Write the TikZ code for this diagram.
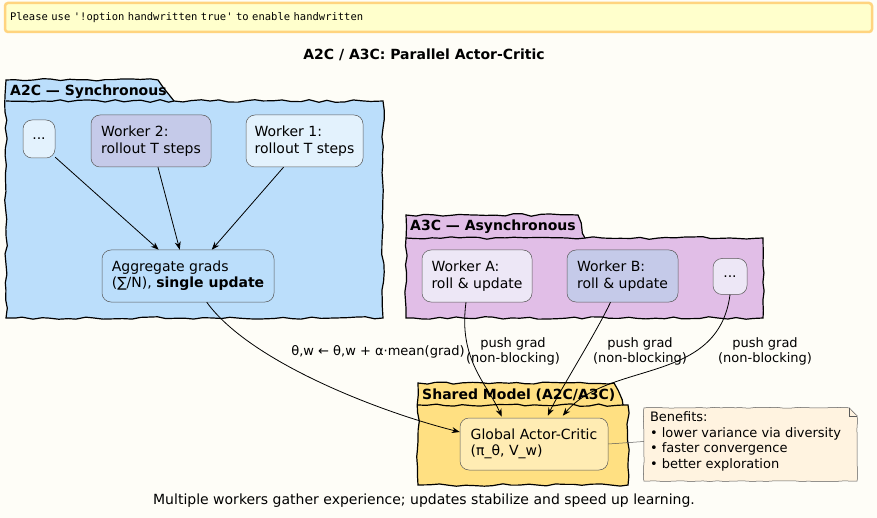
\documentclass[tikz,border=0pt]{standalone}
\usepackage{fontspec}
\setmainfont{DejaVu Sans}
\newfontfamily\monofont{DejaVu Sans Mono}
\usetikzlibrary{arrows.meta,calc,decorations.pathmorphing}
\definecolor{bgc}{HTML}{FEFDF7}
\definecolor{bannerfill}{HTML}{FFFFCC}
\definecolor{bannerdraw}{HTML}{FFD47F}
\definecolor{atwoc}{HTML}{BBDEFB}
\definecolor{athreec}{HTML}{E1BEE7}
\definecolor{sharedc}{HTML}{FFE082}
\definecolor{lightblue}{HTML}{E3F2FD}
\definecolor{indigo}{HTML}{C5CAE9}
\definecolor{lavender}{HTML}{EDE7F6}
\definecolor{amberlight}{HTML}{FFECB3}
\definecolor{notefill}{HTML}{FFF3E0}
\definecolor{nodeborder}{HTML}{5A5A5A}
\tikzset{
  sketch/.style={decorate, decoration={random steps, segment length=7pt, amplitude=0.4pt}},
  pkgsketch/.style={decorate, decoration={random steps, segment length=9pt, amplitude=1.3pt}},
  pkg/.style={draw=black, line width=1.2pt, pkgsketch},
  pkglabel/.style={font=\fontsize{14}{16}\selectfont\bfseries, anchor=base west, inner sep=0pt},
  wnode/.style={draw=nodeborder, line width=0.5pt, rounded corners=9pt, align=left,
    font=\fontsize{14}{16.3}\selectfont, inner sep=0pt},
  elabel/.style={font=\fontsize{13}{15}\selectfont, align=center, inner sep=0pt},
  arr/.style={draw=black, line width=0.8pt, -{Stealth[length=8pt,width=6pt]}},
}
\begin{document}
\begin{tikzpicture}[x=1pt,y=-1pt]
\pgfmathsetseed{7}
\useasboundingbox[fill=bgc] (0,0) rectangle (877,518);

% banner
\node[draw=bannerdraw, fill=bannerfill, line width=2.5pt, rounded corners=3pt,
  text width=857pt, align=left, minimum height=29pt, inner sep=5pt,
  font=\monofont\fontsize{10.5}{12}\selectfont] (banner) at (438.5,17.5)
  {Please use \textquotesingle!option handwritten true\textquotesingle{} to enable handwritten};

% title
\node[font=\fontsize{14}{16}\selectfont\bfseries] (title) at (424,55) {A2C / A3C: Parallel Actor-Critic};

% packages
\path[pkg, fill=atwoc] (6,80) -- (158,80) -- (174,101) -- (383,101) -- (383,318) -- (6,318) -- cycle;
\draw[line width=1.2pt, pkgsketch] (6,101) -- (174,101);
\node[pkglabel] (a2clab) at (10,96) {A2C — Synchronous};

\path[pkg, fill=athreec] (406,215) -- (578,215) -- (585,238) -- (763,238) -- (763,318) -- (406,318) -- cycle;
\draw[line width=1.2pt, pkgsketch] (406,238) -- (585,238);
\node[pkglabel] (a3clab) at (410,231) {A3C — Asynchronous};

\path[pkg, fill=sharedc] (418,383) -- (614,383) -- (623,405) -- (628,405) -- (628,485) -- (418,485) -- cycle;
\draw[line width=1.2pt, pkgsketch] (418,405) -- (623,405);
\node[pkglabel] (sharedlab) at (422,399) {Shared Model (A2C/A3C)};

% A2C nodes
\node[wnode, fill=lightblue, minimum width=32pt, minimum height=38pt] (d1) at (39,139) {...};
\node[wnode, fill=indigo, minimum width=120pt, minimum height=52pt] (w2) at (151,141) {Worker 2:\\rollout T steps};
\node[wnode, fill=lightblue, minimum width=117pt, minimum height=52pt] (w1) at (304.5,141) {Worker 1:\\rollout T steps};
\node[wnode, fill=atwoc, minimum width=172pt, minimum height=52pt] (agg) at (188,276) {Aggregate grads\\(∑/N), \textbf{single update}};

% A3C nodes
\node[wnode, fill=lavender, minimum width=110pt, minimum height=52pt] (wa) at (477,276) {Worker A:\\roll \& update};
\node[wnode, fill=indigo, minimum width=111pt, minimum height=52pt] (wb) at (622.5,276) {Worker B:\\roll \& update};
\node[wnode, fill=lavender, minimum width=34pt, minimum height=36pt] (d2) at (730,276.5) {...};

% shared node
\node[wnode, fill=amberlight, minimum width=148pt, minimum height=52pt] (gac) at (534,444) {Global Actor-Critic\\(π\_θ, V\_w)};

% note
\node[minimum width=213pt, minimum height=73pt, inner sep=0pt] (note) at (750.5,444.5) {};
\path[draw=nodeborder, line width=0.5pt, fill=notefill, sketch]
  (note.north west) -- ($(note.north east)+(-8,0)$) -- ($(note.north east)+(0,8)$) -- (note.south east) -- (note.south west) -- cycle;
\draw[nodeborder, line width=0.5pt] ($(note.north east)+(-8,0)$) -- ($(note.north east)+(-8,8)$) -- ($(note.north east)+(0,8)$);
\node[align=left, font=\fontsize{13}{15.5}\selectfont, inner sep=0pt, anchor=north west] (notetext) at ($(note.north west)+(6,4)$)
  {Benefits:\\• lower variance via diversity\\• faster convergence\\• better exploration};
\draw[nodeborder, line width=0.5pt] (gac.east) -- ($(note.west)+(0,-3)$);

% A2C edges
\draw[arr] ($(d1.south east)+(0,-1)$) -- ($(agg.north west)+(57,0)$);
\draw[arr] ($(w2.south)+(7,0)$) -- ($(agg.north west)+(78,0)$);
\draw[arr] ($(w1.south)+(-21,0)$) -- ($(agg.north west)+(110,0)$);

% to shared
\draw[arr] ($(agg.south west)+(105,0)$) .. controls (250,362) and (380,412) .. ($(gac.west)+(0,-12)$);
\node[elabel] (lbl0) at (378,352) {θ,w ← θ,w + α·mean(grad)};

\draw[arr] ($(wa.south)+(-11,0)$) .. controls (458,360) and (488,385) .. ($(gac.north west)+(42,-1)$);
\node[elabel] (lbl1) at (513,351) {push grad\\(non-blocking)};

\draw[arr] ($(wb.south)+(-12,0)$) .. controls (595,335) and (560,390) .. ($(gac.north west)+(88,-2)$);
\node[elabel] (lbl2) at (640,351) {push grad\\(non-blocking)};

\draw[arr] (d2.south) .. controls (718,385) and (610,360) .. ($(gac.north west)+(103,-2)$);
\node[elabel] (lbl3) at (765,351) {push grad\\(non-blocking)};

% caption
\node[font=\fontsize{14}{16}\selectfont] (caption) at (424,501) {Multiple workers gather experience; updates stabilize and speed up learning.};
\end{tikzpicture}
\end{document}
